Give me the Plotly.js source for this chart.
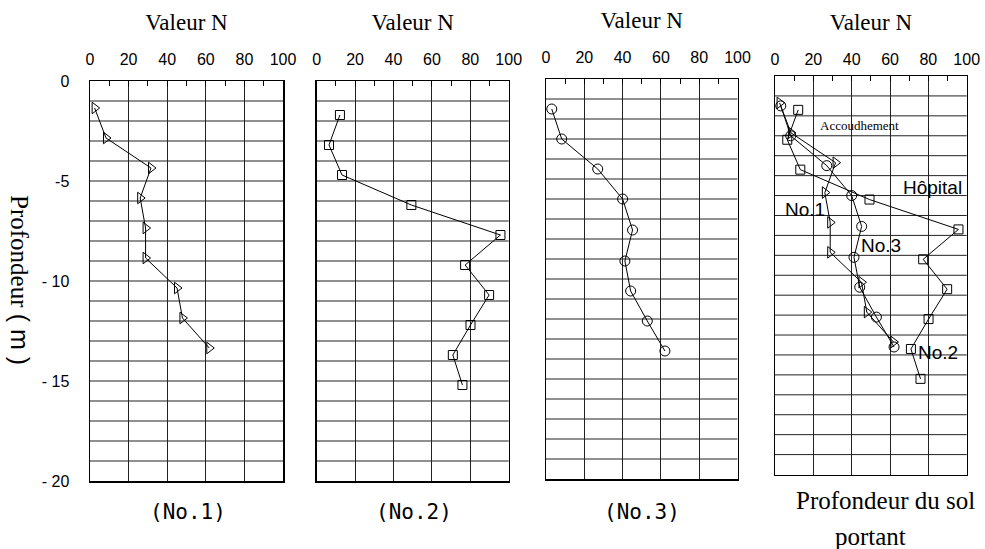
<!DOCTYPE html>
<html>
<head>
<meta charset="utf-8">
<script src="https://cdn.plot.ly/plotly-3.0.1.min.js"></script>
<style>html,body{margin:0;padding:0;background:#fff;}#chart{width:985px;height:549px;}</style>
</head>
<body>
<div id="chart"></div>
<script>
// ---- data ----
const panelNames = ["(No.1)", "(No.2)", "(No.3)"];
const boreholeLabels = ["No.1", "No.2", "No.3"];
const axisTitle = "Valeur N";
const xTickVals = [0, 20, 40, 60, 80, 100];
const yTickVals = [0, -5, -10, -15, -20];
const yTickText = ["0", "-5", "- 10", "- 15", "- 20"];

// Borehole No.1 (triangles)
const depth1 = [-1.35, -2.85, -4.35, -5.85, -7.35, -8.85, -10.35, -11.85, -13.35];
const n1     = [2.4, 8.3, 31.6, 26.0, 28.8, 28.8, 45.1, 47.9, 61.8];
// Borehole No.2 (squares)
const depth2 = [-1.7, -3.2, -4.7, -6.2, -7.7, -9.2, -10.7, -12.2, -13.7, -15.2];
const n2     = [12.1, 6.4, 13.2, 49.3, 95.7, 77.3, 89.8, 80.1, 70.9, 75.9];
// Borehole No.3 (circles)
const depth3 = [-1.5, -3.0, -4.5, -6.0, -7.55, -9.1, -10.6, -12.1, -13.6];
const n3     = [3.0, 8.2, 27.0, 40.0, 45.2, 41.2, 44.2, 52.9, 62.1];

// ---- figure ----
const W = 985, H = 549;
const px = v => v / W;
const py = v => 1 - v / H;

const serif = "Liberation Serif, Times New Roman, serif";
const sans = "Liberation Sans, Arial, sans-serif";

const boxes = [
  {x0: 90, x1: 283, y0: 81, y1: 481, lab: 8},
  {x0: 316.7, x1: 508.7, y0: 81, y1: 481, lab: 8},
  {x0: 546, x1: 737.5, y0: 79, y1: 479, lab: 8},
  {x0: 775, x1: 966.7, y0: 76, y1: 474.5, lab: 3}
];

const symbols = ["triangle-right-open", "square-open", "circle-open"];
const sizes = [10, 9, 10];
const depths = [depth1, depth2, depth3];
const ns = [n1, n2, n3];

function makeTrace(i, ax) {
  return {
    type: "scatter", mode: "lines+markers",
    x: ns[i], y: depths[i],
    xaxis: "x" + ax, yaxis: "y" + ax,
    name: boreholeLabels[i], showlegend: false,
    line: {color: "#000", width: 1},
    marker: {symbol: symbols[i], size: sizes[i], color: "#000", line: {color: "#000", width: 1}},
    cliponaxis: false
  };
}
const traces = [];
for (let i = 0; i < 3; i++) traces.push(makeTrace(i, i + 1));
for (let i = 0; i < 3; i++) traces.push(makeTrace(i, 4));

const layout = {
  width: W, height: H,
  margin: {l: 0, r: 0, t: 0, b: 0},
  paper_bgcolor: "#fff", plot_bgcolor: "#fff",
  showlegend: false,
  annotations: [],
  shapes: []
};

boxes.forEach((b, i) => {
  const k = i === 0 ? "" : String(i + 1);
  layout["xaxis" + k] = {
    domain: [px(b.x0), px(b.x1)],
    anchor: "y" + (i + 1),
    side: "top",
    range: [0, 100],
    tickvals: xTickVals,
    ticks: "inside", ticklen: 5, tickcolor: "#000",
    minor: {tickvals: [10, 30, 50, 70, 90], ticks: "inside", ticklen: 5, tickcolor: "#000", showgrid: false},
    tickfont: {family: sans, size: 16, color: "#000"},
    ticklabelstandoff: b.lab,
    showgrid: true, gridcolor: "#222", gridwidth: 1,
    showline: true, linecolor: "#000", linewidth: 1.5, mirror: true,
    zeroline: false, fixedrange: true,
    title: {text: axisTitle, font: {family: serif, size: 23, color: "#000"}, standoff: 14}
  };
  layout["yaxis" + k] = {
    domain: [py(b.y1), py(b.y0)],
    anchor: "x" + (i + 1),
    range: [-20, 0],
    tickvals: i === 0 ? yTickVals : [],
    ticktext: i === 0 ? yTickText : [],
    showticklabels: i === 0,
    ticks: "",
    tickfont: {family: sans, size: 16, color: "#000"},
    ticklabelstandoff: 16,
    showgrid: false,
    showline: true, linecolor: "#000", linewidth: 1.5, mirror: true,
    zeroline: false, fixedrange: true
  };
  // horizontal 1 m grid lines
  for (let d = -19; d <= -1; d++) {
    layout.shapes.push({
      type: "line", xref: "x" + (i + 1) + " domain", yref: "y" + (i + 1),
      x0: 0, x1: 1, y0: d, y1: d,
      line: {color: "#222", width: 1}, layer: "below"
    });
  }
});

// bottom captions
const captionX = [188, 414, 642];
panelNames.forEach((t, i) => {
  layout.annotations.push({
    text: t, xref: "paper", yref: "paper",
    x: px(captionX[i]), y: py(512), xanchor: "center", yanchor: "middle",
    showarrow: false, font: {family: "DejaVu Sans Mono, monospace", size: 21, color: "#000"}
  });
});
layout.annotations.push({
  text: "Profondeur du sol", xref: "paper", yref: "paper",
  x: px(885), y: py(500), xanchor: "center", yanchor: "middle",
  showarrow: false, font: {family: serif, size: 25, color: "#000"}
});
layout.annotations.push({
  text: "portant", xref: "paper", yref: "paper",
  x: px(870), y: py(536), xanchor: "center", yanchor: "middle",
  showarrow: false, font: {family: serif, size: 25, color: "#000"}
});
// y axis label (rotated clockwise)
layout.annotations.push({
  text: 'Profondeur <span style="font-family:Liberation Sans, Arial, sans-serif">( m )</span>',
  xref: "paper", yref: "paper",
  x: px(20), y: py(280), xanchor: "center", yanchor: "middle",
  textangle: 90, showarrow: false,
  font: {family: serif, size: 25, color: "#000"}
});
// labels inside the combined panel
layout.annotations.push({text: "Accoudhement", xref: "x4", yref: "y4", x: 22.4, y: -2.5, xanchor: "left", yanchor: "middle", showarrow: false, font: {family: serif, size: 13, color: "#000"}});
layout.annotations.push({text: "Hôpital", xref: "x4", yref: "y4", x: 82.4, y: -5.6, xanchor: "center", yanchor: "middle", showarrow: false, font: {family: sans, size: 19, color: "#000"}});
layout.annotations.push({text: boreholeLabels[0], xref: "x4", yref: "y4", x: 15.6, y: -6.7, xanchor: "center", yanchor: "middle", showarrow: false, font: {family: sans, size: 19, color: "#000"}});
layout.annotations.push({text: boreholeLabels[2], xref: "x4", yref: "y4", x: 55.3, y: -8.5, xanchor: "center", yanchor: "middle", showarrow: false, font: {family: sans, size: 19, color: "#000"}});
layout.annotations.push({text: boreholeLabels[1], xref: "x4", yref: "y4", x: 85.0, y: -13.9, xanchor: "center", yanchor: "middle", showarrow: false, font: {family: sans, size: 19, color: "#000"}});

Plotly.newPlot("chart", traces, layout, {displayModeBar: false, staticPlot: true});
</script>
</body>
</html>
